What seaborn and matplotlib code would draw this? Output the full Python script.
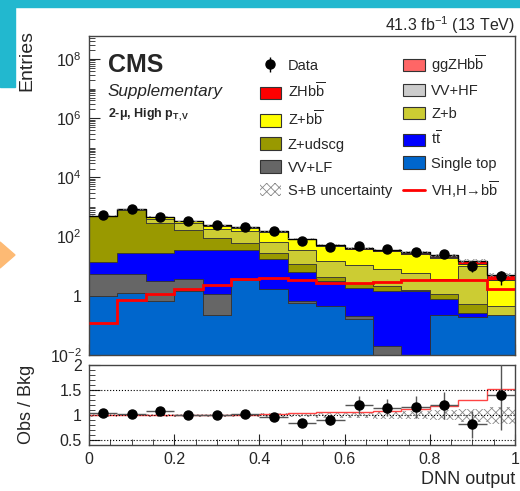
import numpy as np
import pandas as pd
import matplotlib
matplotlib.use("Agg")
import matplotlib.pyplot as plt
from matplotlib.patches import Patch, Rectangle, Polygon
from matplotlib.lines import Line2D
from matplotlib.ticker import FixedLocator, LogLocator, MultipleLocator, NullFormatter, FuncFormatter
import seaborn as sns

# 15 bins of DNN output, yields per process
edges = np.linspace(0, 1, 16)
centers = 0.5 * (edges[1:] + edges[:-1])

single_top = [1.0, 1.2, 0.68, 1.5, 0.22, 3.4, 1.66, 0.57, 0.44, 0.17, 0, 0, 0.22, 0.19, 0.22]
vv_lf = [4.3, 4.3, 2.4, 2.1, 0.92, 0.15, 0.09, 0.11, 0.03, 0.03, 0.02, 0, 0, 0, 0]
ttbar = [8.2, 23.5, 25, 31, 33, 31, 16, 5.6, 2.8, 1.7, 1.4, 1.45, 0.56, 0.07, 0]
z_udscg = [476, 780, 252, 130, 59, 28, 10, 5.7, 1.2, 0.9, 0.7, 0.1, 0.41, 0.27, 0]
z_b = [10, 15, 120, 115, 83, 95, 40, 22, 10, 7.8, 6.2, 4.35, 2.4, 9.3, 0.25]
z_bb = [4, 5, 65, 45, 57, 45, 80, 48, 35, 28, 25, 20, 16, 1.6, 2.9]
vv_hf = [4, 5, 4, 3, 2.5, 2, 1.5, 1, 0.7, 0.5, 0.4, 0.35, 0.3, 0.2, 0.1]
zh_bb = [0.1, 0.62, 1.0, 1.42, 2.0, 3.2, 3.4, 2.8, 2.4, 2.4, 2.5, 2.8, 2.9, 2.9, 1.42]
ggzh_bb = [0.02, 0.11, 0.17, 0.25, 0.4, 0.6, 0.6, 0.5, 0.4, 0.4, 0.4, 0.5, 0.5, 0.5, 0.25]

data_counts = [550, 880, 470, 325, 245, 215, 152, 72, 45, 47, 39, 31, 25, 10, 4.7]
data_err = [23, 30, 22, 18, 16, 15, 12, 8.5, 6.7, 6.9, 6.2, 5.6, 5.0, 3.8, 2.4]

ratio_obs = [1.05, 1.02, 1.09, 1.01, 1.0, 1.02, 0.97, 0.85, 0.91, 1.2, 1.15, 1.17, 1.2, 0.82, 1.4]
ratio_err = [0.04, 0.03, 0.05, 0.05, 0.06, 0.06, 0.07, 0.08, 0.1, 0.18, 0.17, 0.22, 0.27, 0.27, 0.7]
ratio_sb = [1.0, 1.0, 1.0, 1.01, 1.01, 1.01, 1.03, 1.04, 1.06, 1.07, 1.08, 1.12, 1.19, 1.3, 1.53]
unc_rel = [0.03, 0.025, 0.03, 0.03, 0.03, 0.03, 0.04, 0.04, 0.05, 0.06, 0.07, 0.08, 0.1, 0.13, 0.17]

procs = ["Single top", "VV+LF", "ttbar", "Z+udscg", "Z+b", "Z+bb", "VV+HF", "ZHbb", "ggZHbb"]
yields = [single_top, vv_lf, ttbar, z_udscg, z_b, z_bb, vv_hf, zh_bb, ggzh_bb]
colors = {"Single top": "#0066CC", "VV+LF": "#666666", "ttbar": "#0000FF",
          "Z+udscg": "#999900", "Z+b": "#CCCC33", "Z+bb": "#FFFF00",
          "VV+HF": "#CCCCCC", "ZHbb": "#FF0000", "ggZHbb": "#FF6666"}

df = pd.DataFrame({"dnn": np.tile(centers, len(procs)),
                   "process": np.repeat(procs, len(centers)),
                   "w": np.concatenate(yields)})

sns.set_style("ticks")
plt.rcParams["font.family"] = ["Liberation Sans", "DejaVu Sans"]
plt.rcParams["mathtext.fontset"] = "custom"
plt.rcParams["mathtext.rm"] = "Liberation Sans"
plt.rcParams["mathtext.it"] = "Liberation Sans:italic"
plt.rcParams["mathtext.bf"] = "Liberation Sans:bold"
plt.rcParams["hatch.linewidth"] = 0.6

fig = plt.figure(figsize=(5.2, 4.91), dpi=100)
ax = fig.add_axes([89 / 520, 1 - 355 / 491, 426 / 520, 319 / 491])
rax = fig.add_axes([89 / 520, 1 - 445 / 491, 426 / 520, 80 / 491])

# stacked backgrounds + signal
sns.histplot(df, x="dnn", weights="w", hue="process", hue_order=procs[::-1],
             multiple="stack", bins=list(edges), element="step", fill=True,
             palette=colors, alpha=1, edgecolor="#333333", linewidth=0.6,
             legend=False, ax=ax)
ax.set_yscale("log")

total = np.sum(np.array(yields), axis=0)
signal = np.array(zh_bb) + np.array(ggzh_bb)
ax.stairs(total, edges, baseline=None, color="black", lw=1.0, zorder=5)
ax.stairs(total * (1 + np.array(unc_rel)), edges, baseline=total * (1 - np.array(unc_rel)),
          fill=True, facecolor="none", edgecolor="#888888", lw=0, hatch="xxxx", zorder=6)
ax.stairs(signal, edges, baseline=None, color="#FF0000", lw=2, zorder=7)
data_h = ax.errorbar(centers, data_counts, yerr=data_err, fmt="o", color="black",
                     ms=6.5, elinewidth=1, capsize=0, zorder=8)

ax.set_xlim(0, 1)
ax.set_ylim(1e-2, 6e8)
ax.yaxis.set_major_locator(FixedLocator([1e-2, 1, 1e2, 1e4, 1e6, 1e8]))
ax.set_yticklabels([r"$10^{-2}$", "1", r"$10^{2}$", r"$10^{4}$", r"$10^{6}$", r"$10^{8}$"])
ax.yaxis.set_minor_locator(LogLocator(base=10, subs=np.arange(1, 10), numticks=30))
ax.yaxis.set_minor_formatter(NullFormatter())
ax.xaxis.set_major_locator(MultipleLocator(0.2))
ax.xaxis.set_minor_locator(MultipleLocator(0.05))
ax.tick_params(axis="both", which="both", direction="in", labelsize=11.5, pad=5)
ax.tick_params(axis="both", which="major", length=8)
ax.tick_params(axis="both", which="minor", length=4)
ax.tick_params(axis="x", labelbottom=False)
ax.set_xlabel("")
ax.set_ylabel("Entries", fontsize=14, loc="top")
ax.yaxis.set_label_coords(-0.127, 1.02)

# legend
leg_handles = [data_h,
               Patch(facecolor=colors["ZHbb"], edgecolor="#333333", lw=0.8),
               Patch(facecolor=colors["Z+bb"], edgecolor="#333333", lw=0.8),
               Patch(facecolor=colors["Z+udscg"], edgecolor="#333333", lw=0.8),
               Patch(facecolor=colors["VV+LF"], edgecolor="#333333", lw=0.8),
               Patch(facecolor="white", edgecolor="#888888", lw=0, hatch="xxxx"),
               Patch(facecolor=colors["ggZHbb"], edgecolor="#333333", lw=0.8),
               Patch(facecolor=colors["VV+HF"], edgecolor="#333333", lw=0.8),
               Patch(facecolor=colors["Z+b"], edgecolor="#333333", lw=0.8),
               Patch(facecolor=colors["ttbar"], edgecolor="#333333", lw=0.8),
               Patch(facecolor=colors["Single top"], edgecolor="#333333", lw=0.8),
               Line2D([], [], color="#FF0000", lw=2)]
leg_labels = ["Data", r"ZHb$\overline{\mathrm{b}}$", r"Z+b$\overline{\mathrm{b}}$", "Z+udscg", "VV+LF",
              "S+B uncertainty", r"ggZHb$\overline{\mathrm{b}}$", "VV+HF", "Z+b", r"t$\overline{\mathrm{t}}$",
              "Single top", r"VH,H→b$\overline{\mathrm{b}}$"]
ax.legend(leg_handles, leg_labels, ncol=2, loc="upper left", bbox_to_anchor=(0.401, 0.945),
          frameon=False, fontsize=10.5, handlelength=1.45, handleheight=0.96, handletextpad=0.45,
          labelspacing=0.59, columnspacing=0.8, borderpad=0, borderaxespad=0)

# ratio panel
rax.stairs(1 + np.array(unc_rel), edges, baseline=1 - np.array(unc_rel), fill=True,
           facecolor="none", edgecolor="#888888", lw=0, hatch="xxxx")
for yv in [0.5, 1.0, 1.5]:
    rax.axhline(yv, color="black", ls=":", lw=0.8)
rax.stairs(ratio_sb, edges, baseline=None, color="#FF4444", lw=1)
rax.errorbar(centers, ratio_obs, yerr=ratio_err, xerr=0.5 / 15, fmt="o", color="black",
             ecolor="#555555", ms=6.5, elinewidth=1, capsize=0, zorder=5)
rax.set_xlim(0, 1)
rax.set_ylim(0.4, 2.0)
rax.yaxis.set_major_locator(FixedLocator([0.5, 1.0, 1.5, 2.0]))
rax.set_yticklabels(["0.5", "1", "1.5", "2"])
rax.yaxis.set_minor_locator(MultipleLocator(0.1))
rax.xaxis.set_major_locator(MultipleLocator(0.2))
rax.xaxis.set_minor_locator(MultipleLocator(0.05))
rax.xaxis.set_major_formatter(FuncFormatter(lambda v, p: "%g" % round(v, 2)))
rax.tick_params(axis="both", which="both", direction="in", labelsize=11.5, pad=5)
rax.tick_params(axis="both", which="major", length=8)
rax.tick_params(axis="both", which="minor", length=4)
rax.set_ylabel("Obs / Bkg", fontsize=13, loc="top")
rax.yaxis.set_label_coords(-0.127, 1.0)
rax.set_xlabel("DNN output", fontsize=13, loc="right")
rax.xaxis.set_label_coords(1.0, -0.33)

for a in (ax, rax):
    for s in a.spines.values():
        s.set_color("#444444")
        s.set_linewidth(1)

# header texts
fig.text(515 / 520, 1 - 25 / 491, r"41.3 fb$^{-1}$ (13 TeV)", ha="right", va="center", fontsize=11.5)
fig.text(108 / 520, 1 - 53 / 491, "CMS", ha="left", va="top", fontsize=18, weight="bold")
fig.text(108 / 520, 1 - 96 / 491, "Supplementary", ha="left", va="baseline", fontsize=12.3, style="italic")
fig.text(108 / 520, 1 - 117 / 491, r"2-μ, High p$_{\mathbf{T,V}}$", ha="left", va="baseline",
         fontsize=9, weight="bold")

# slide frame around the figure
fig.patches.append(Rectangle((0, 1 - 7 / 491), 1, 7 / 491, transform=fig.transFigure,
                             color="#22B8CF", zorder=0))
fig.patches.append(Rectangle((0, 1 - 87 / 491), 15 / 520, 87 / 491, transform=fig.transFigure,
                             color="#22B8CF", zorder=0))
fig.patches.append(Polygon([(0, 1 - 242 / 491), (15 / 520, 1 - 255 / 491), (0, 1 - 268 / 491)],
                           closed=True, transform=fig.transFigure, color="#FDBA74", zorder=0))

fig.savefig("out.png", dpi=100)
